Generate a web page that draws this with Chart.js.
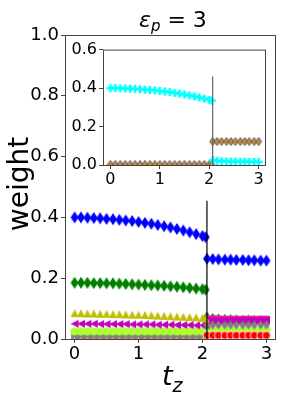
<!DOCTYPE html>
<html>
<head>
<meta charset="utf-8">
<script src="https://cdn.jsdelivr.net/npm/chart.js@4.4.1/dist/chart.umd.min.js"></script>
<style>
  html, body { margin: 0; padding: 0; background: #fff; }
  #wrap { position: relative; width: 283px; height: 403px; }
  #main { position: absolute; left: 0; top: 0; }
  #inset { position: absolute; left: 66px; top: 38px; }
</style>
</head>
<body>
<div id="wrap">
  <canvas id="main" width="283" height="403"></canvas>
  <canvas id="inset" width="210" height="160"></canvas>
</div>
<script>
// t_z values before and after the jump
const xLeft = [0, 0.1, 0.2, 0.3, 0.4, 0.5, 0.6, 0.7, 0.8, 0.9, 1.0, 1.1, 1.2, 1.3, 1.4, 1.5, 1.6, 1.7, 1.8, 1.9, 2.0, 2.05];
const xRight = [2.07, 2.16, 2.25, 2.35, 2.44, 2.53, 2.63, 2.72, 2.81, 2.91, 3.0];
const jumpX = 2.07;
const jumpTop = 0.455;
const jumpTopInset = 0.46;

// main panel weights
const blueL = [0.400, 0.400, 0.399, 0.398, 0.397, 0.395, 0.394, 0.392, 0.390, 0.388, 0.385, 0.382, 0.379, 0.375, 0.371, 0.367, 0.362, 0.357, 0.351, 0.345, 0.339, 0.335];
const blueR = [0.264, 0.263, 0.262, 0.261, 0.261, 0.260, 0.260, 0.259, 0.259, 0.258, 0.258];
const greenL = [0.185, 0.185, 0.185, 0.184, 0.184, 0.183, 0.183, 0.182, 0.181, 0.180, 0.179, 0.178, 0.177, 0.176, 0.175, 0.173, 0.172, 0.170, 0.168, 0.166, 0.164, 0.162];
const greenR = [0.078, 0.073, 0.071, 0.070, 0.069, 0.068, 0.067, 0.067, 0.066, 0.066, 0.065];
const oliveL = [0.085, 0.085, 0.084, 0.084, 0.083, 0.083, 0.082, 0.082, 0.081, 0.080, 0.080, 0.079, 0.078, 0.077, 0.076, 0.075, 0.074, 0.073, 0.072, 0.071, 0.070, 0.068];
const magentaL = [0.050, 0.050, 0.050, 0.050, 0.049, 0.049, 0.049, 0.049, 0.049, 0.048, 0.048, 0.048, 0.048, 0.047, 0.047, 0.047, 0.046, 0.046, 0.046, 0.045, 0.045, 0.045];
const magentaR = [0.060, 0.060, 0.060, 0.060, 0.060, 0.060, 0.060, 0.060, 0.060, 0.060, 0.060];
const pinkR = [0.066, 0.066, 0.066, 0.065, 0.065, 0.065, 0.065, 0.065, 0.065, 0.065, 0.065];
const limeL = [0.025, 0.025, 0.025, 0.025, 0.025, 0.025, 0.025, 0.025, 0.025, 0.025, 0.025, 0.025, 0.025, 0.025, 0.025, 0.025, 0.025, 0.025, 0.025, 0.025, 0.025, 0.025];
const limeR = [0.030, 0.030, 0.030, 0.030, 0.030, 0.030, 0.030, 0.030, 0.030, 0.030, 0.030];
const grayL = [0.008, 0.008, 0.008, 0.008, 0.008, 0.008, 0.008, 0.008, 0.008, 0.008, 0.008, 0.008, 0.008, 0.008, 0.008, 0.008, 0.008, 0.008, 0.008, 0.008, 0.008, 0.008];
const grayR = [0.046, 0.046, 0.046, 0.046, 0.046, 0.046, 0.046, 0.046, 0.046, 0.046, 0.046];
const orangeL = [0.003, 0.003, 0.003, 0.003, 0.003, 0.003, 0.003, 0.003, 0.003, 0.003, 0.003, 0.003, 0.003, 0.003, 0.003, 0.003, 0.003, 0.003, 0.003, 0.003, 0.003, 0.003];
const redR = [0.012, 0.012, 0.012, 0.012, 0.012, 0.012, 0.012, 0.012, 0.012, 0.012, 0.012];

// inset weights
const cyanL = [0.400, 0.400, 0.399, 0.398, 0.397, 0.396, 0.394, 0.392, 0.390, 0.388, 0.385, 0.382, 0.379, 0.375, 0.371, 0.367, 0.362, 0.357, 0.351, 0.345, 0.339, 0.335];
const cyanR = [0.025, 0.022, 0.020, 0.019, 0.018, 0.018, 0.017, 0.017, 0.016, 0.016, 0.016];
const brownL = [0.003, 0.003, 0.003, 0.003, 0.003, 0.003, 0.003, 0.003, 0.003, 0.003, 0.003, 0.003, 0.003, 0.003, 0.003, 0.003, 0.003, 0.003, 0.003, 0.003, 0.003, 0.003];
const brownR = [0.122, 0.122, 0.122, 0.122, 0.122, 0.122, 0.122, 0.122, 0.122, 0.122, 0.122];

const xTicks = [0, 1, 2, 3];
const mainYTicks = [0, 0.2, 0.4, 0.6, 0.8, 1.0];
const insetYTicks = [0, 0.2, 0.4, 0.6];

function pts(xs, ys) {
    return xs.map((x, i) => ({ x: x, y: ys[i] }));
}

// little canvases used as marker shapes
function marker(shape, fill, w, h, edge) {
    const c = document.createElement('canvas');
    c.width = w + 2;
    c.height = h + 2;
    const g = c.getContext('2d');
    const cx = c.width / 2, cy = c.height / 2;
    g.fillStyle = fill;
    g.beginPath();
    if (shape === 'diamond') {
        g.moveTo(cx, cy - h / 2);
        g.lineTo(cx + w / 2, cy);
        g.lineTo(cx, cy + h / 2);
        g.lineTo(cx - w / 2, cy);
    } else if (shape === 'tri') {
        g.moveTo(cx, cy - h / 2);
        g.lineTo(cx + w / 2, cy + h / 2);
        g.lineTo(cx - w / 2, cy + h / 2);
    } else if (shape === 'triLeft') {
        g.moveTo(cx - w / 2, cy);
        g.lineTo(cx + w / 2, cy - h / 2);
        g.lineTo(cx + w / 2, cy + h / 2);
    } else if (shape === 'circle') {
        g.arc(cx, cy, w / 2, 0, Math.PI * 2);
    } else if (shape === 'square') {
        g.rect(cx - w / 2, cy - h / 2, w, h);
    } else if (shape === 'plus') {
        const a = w / 2, b = w / 6;
        g.moveTo(cx - b, cy - a); g.lineTo(cx + b, cy - a); g.lineTo(cx + b, cy - b);
        g.lineTo(cx + a, cy - b); g.lineTo(cx + a, cy + b); g.lineTo(cx + b, cy + b);
        g.lineTo(cx + b, cy + a); g.lineTo(cx - b, cy + a); g.lineTo(cx - b, cy + b);
        g.lineTo(cx - a, cy + b); g.lineTo(cx - a, cy - b); g.lineTo(cx - b, cy - b);
    }
    g.closePath();
    g.fill();
    if (edge) {
        g.strokeStyle = edge;
        g.lineWidth = 0.8;
        g.stroke();
    }
    return c;
}

function series(data, style, order) {
    return {
        data: data,
        showLine: false,
        pointStyle: style,
        pointRadius: 5,
        pointHoverRadius: 5,
        order: order
    };
}

function jumpLine(top, color) {
    return {
        data: [{ x: jumpX, y: 0 }, { x: jumpX, y: top }],
        showLine: true,
        borderColor: color,
        borderWidth: 1.2,
        pointRadius: 0,
        order: 0
    };
}

// frame on all four sides, like matplotlib spines
const framePlugin = {
    id: 'frame',
    beforeDatasetsDraw(chart) {
        const a = chart.chartArea, ctx = chart.ctx;
        ctx.save();
        ctx.fillStyle = '#fff';
        ctx.fillRect(a.left, a.top, a.right - a.left, a.bottom - a.top);
        ctx.restore();
    },
    afterDraw(chart) {
        const a = chart.chartArea, ctx = chart.ctx;
        ctx.save();
        ctx.strokeStyle = '#444';
        ctx.lineWidth = 1;
        ctx.strokeRect(a.left + 0.5, a.top + 0.5, a.right - a.left - 1, a.bottom - a.top);
        ctx.restore();
    }
};

// title, y label and x label with subscripts
const labelPlugin = {
    id: 'labels',
    afterDraw(chart) {
        const ctx = chart.ctx;
        ctx.save();
        ctx.fillStyle = '#000';
        ctx.textBaseline = 'alphabetic';
        ctx.textAlign = 'left';
        // title: ε_p = 3
        ctx.font = 'italic 22px "DejaVu Sans"';
        let x = 139;
        ctx.fillText('ε', x, 27);
        x += ctx.measureText('ε').width;
        ctx.font = 'italic 15px "DejaVu Sans"';
        ctx.fillText('p', x, 31);
        x += ctx.measureText('p').width;
        ctx.font = '22px "DejaVu Sans"';
        ctx.fillText(' = 3', x, 27);
        // x label: t_z
        ctx.font = 'italic 27px "DejaVu Sans"';
        ctx.fillText('t', 162, 385);
        const tw = ctx.measureText('t').width;
        ctx.font = 'italic 19px "DejaVu Sans"';
        ctx.fillText('z', 162 + tw, 392);
        // y label
        ctx.translate(28, 184);
        ctx.rotate(-Math.PI / 2);
        ctx.textAlign = 'center';
        ctx.font = '28px "DejaVu Sans"';
        ctx.fillText('weight', 0, 0);
        ctx.restore();
    }
};

function axes(yMax, yTicks, yWidth, xHeight, fontSize) {
    const tickFont = { family: '"DejaVu Sans"', size: fontSize };
    return {
        x: {
            type: 'linear',
            min: -0.15,
            max: 3.15,
            afterBuildTicks: (s) => { s.ticks = xTicks.map(v => ({ value: v })); },
            afterFit: (s) => { s.height = xHeight; },
            grid: { drawOnChartArea: false, drawTicks: true, tickLength: 4, color: '#444' },
            border: { display: false },
            ticks: { color: '#000', font: tickFont, padding: 1, maxRotation: 0, callback: v => String(v) }
        },
        y: {
            type: 'linear',
            min: 0,
            max: yMax,
            afterBuildTicks: (s) => { s.ticks = yTicks.map(v => ({ value: v })); },
            afterFit: (s) => { s.width = yWidth; },
            grid: { drawOnChartArea: false, drawTicks: true, tickLength: 4, color: '#444' },
            border: { display: false },
            ticks: { color: '#000', font: tickFont, padding: 2, callback: v => v.toFixed(1) }
        }
    };
}

const baseOpts = {
    responsive: false,
    animation: false,
    events: [],
    plugins: { legend: { display: false }, tooltip: { enabled: false }, title: { display: false } }
};

new Chart(document.getElementById('main').getContext('2d'), {
    type: 'scatter',
    data: {
        datasets: [
            jumpLine(jumpTop, '#000'),
            series(pts(xLeft, blueL), marker('diamond', '#0000ff', 8, 12), 1),
            series(pts(xRight, blueR), marker('diamond', '#0000ff', 8, 12), 1),
            series(pts(xLeft, greenL), marker('diamond', '#008000', 8, 12), 2),
            series(pts(xRight, greenR), marker('diamond', '#008000', 5, 8), 9),
            series(pts(xLeft, oliveL), marker('tri', '#bfbf00', 8, 8), 3),
            series(pts(xLeft, magentaL), marker('triLeft', '#bf00bf', 8, 8), 4),
            series(pts(xRight, pinkR), marker('square', '#ff1493', 7, 7), 5),
            series(pts(xRight, magentaR), marker('square', '#bf00bf', 7, 7), 4),
            series(pts(xLeft, limeL), marker('circle', '#adff2f', 8, 8), 6),
            series(pts(xRight, limeR), marker('circle', '#adff2f', 8, 8), 6),
            series(pts(xRight, grayR), marker('diamond', '#808080', 7, 9), 3),
            series(pts(xLeft, grayL), marker('square', '#808080', 7, 6), 7),
            series(pts(xLeft, orangeL), marker('tri', '#ff9f30', 3, 3), 2),
            series(pts(xRight, redR), marker('circle', '#ff0000', 8, 8, '#fff'), 2)
        ]
    },
    options: Object.assign({}, baseOpts, {
        layout: { padding: { left: 0, right: 7, top: 35, bottom: 0 } },
        scales: axes(1.0, mainYTicks, 65, 64, 18)
    }),
    plugins: [framePlugin, labelPlugin]
});

new Chart(document.getElementById('inset').getContext('2d'), {
    type: 'scatter',
    data: {
        datasets: [
            jumpLine(jumpTopInset, '#666'),
            series(pts(xLeft, cyanL), marker('plus', '#00ffff', 8, 8), 1),
            series(pts(xRight, cyanR), marker('plus', '#00ffff', 8, 8), 1),
            series(pts(xLeft, brownL), marker('diamond', '#cd853f', 6, 8, '#2f4f4f'), 2),
            series(pts(xRight, brownR), marker('diamond', '#cd853f', 6, 8, '#2f4f4f'), 2)
        ]
    },
    options: Object.assign({}, baseOpts, {
        layout: { padding: { left: 0, right: 10, top: 7, bottom: 0 } },
        scales: axes(0.6, insetYTicks, 37, 33, 16)
    }),
    plugins: [framePlugin]
});
</script>
</body>
</html>
